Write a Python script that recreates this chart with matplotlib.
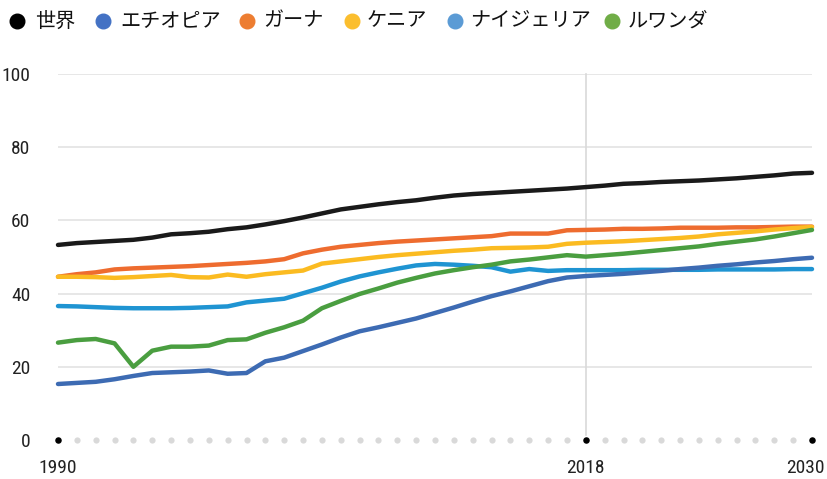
import matplotlib
matplotlib.use("Agg")
import matplotlib.pyplot as plt
from matplotlib import font_manager
from matplotlib.transforms import ScaledTranslation

years = list(range(1990, 2031))

world = [53.3, 53.8, 54.1, 54.4, 54.7, 55.3, 56.2, 56.5, 56.9, 57.6,
         58.1, 58.9, 59.8, 60.8, 61.9, 63.0, 63.7, 64.4, 65.0, 65.5,
         66.2, 66.8, 67.2, 67.5, 67.8, 68.1, 68.4, 68.7, 69.1, 69.5,
         70.0, 70.2, 70.5, 70.7, 70.9, 71.2, 71.5, 71.9, 72.3, 72.8, 73.0]
ethiopia = [15.3, 15.6, 15.9, 16.6, 17.5, 18.3, 18.5, 18.7, 19.0, 18.1,
            18.3, 21.5, 22.5, 24.3, 26.1, 28.0, 29.7, 30.8, 32.0, 33.2,
            34.7, 36.2, 37.8, 39.3, 40.6, 42.0, 43.4, 44.4, 44.8, 45.1,
            45.4, 45.8, 46.2, 46.7, 47.1, 47.6, 48.0, 48.5, 48.9, 49.4, 49.8]
ghana = [44.6, 45.3, 45.8, 46.6, 46.9, 47.1, 47.3, 47.5, 47.8, 48.1,
         48.4, 48.8, 49.4, 51.0, 52.0, 52.8, 53.3, 53.8, 54.2, 54.5,
         54.8, 55.1, 55.4, 55.7, 56.4, 56.4, 56.4, 57.3, 57.4, 57.5,
         57.7, 57.7, 57.8, 58.0, 58.0, 58.0, 58.1, 58.1, 58.2, 58.3, 58.3]
kenya = [44.6, 44.6, 44.5, 44.3, 44.5, 44.8, 45.1, 44.5, 44.4, 45.2,
         44.6, 45.3, 45.8, 46.3, 48.2, 48.8, 49.4, 50.0, 50.5, 50.9,
         51.3, 51.7, 52.0, 52.4, 52.5, 52.6, 52.8, 53.6, 53.9, 54.1,
         54.3, 54.6, 54.9, 55.2, 55.6, 56.2, 56.6, 57.0, 57.5, 57.9, 58.2]
nigeria = [36.6, 36.5, 36.3, 36.1, 36.0, 36.0, 36.0, 36.1, 36.3, 36.5,
           37.6, 38.1, 38.6, 40.1, 41.6, 43.3, 44.7, 45.8, 46.8, 47.7,
           48.1, 47.9, 47.6, 47.2, 46.0, 46.7, 46.2, 46.4, 46.4, 46.4,
           46.4, 46.5, 46.5, 46.5, 46.5, 46.6, 46.6, 46.6, 46.6, 46.7, 46.7]
rwanda = [26.6, 27.3, 27.6, 26.4, 20.0, 24.4, 25.5, 25.5, 25.8, 27.3,
          27.5, 29.3, 30.8, 32.6, 36.0, 38.0, 39.9, 41.4, 43.0, 44.3,
          45.5, 46.4, 47.2, 47.9, 48.8, 49.3, 49.9, 50.5, 50.1, 50.5,
          50.9, 51.4, 51.9, 52.4, 52.9, 53.6, 54.2, 54.8, 55.6, 56.5, 57.4]

names = ["世界", "エチオピア", "ガーナ", "ケニア", "ナイジェリア", "ルワンダ"]
line_colors = ["#1a1a1a", "#3d6bb3", "#ee6c2f", "#fbbb21", "#1f94d2", "#4a9e40"]
legend_colors = ["#000000", "#4472c4", "#ed7d31", "#fbbe2e", "#5b9bd5", "#70ad47"]
series = [world, ethiopia, ghana, kenya, nigeria, rwanda]
draw_order = [0, 2, 3, 4, 1, 5]

yticks = [0, 20, 40, 60, 80, 100]
xlabels = [1990, 2018, 2030]

# pick a narrow face for the numbers if one is around
installed = {f.name for f in font_manager.fontManager.ttflist}
narrow = [n for n in ["Roboto Condensed", "Liberation Sans Narrow", "DejaVu Sans Condensed",
                      "Open Sans Condensed", "Noto Sans Condensed"] if n in installed]
num_font = narrow + ["DejaVu Sans"]
jp_font = ["Noto Sans CJK JP", "DejaVu Sans"]
num_size = 14 if narrow else 12

W, H = 828, 479
fig = plt.figure(figsize=(W / 100, H / 100), dpi=100)
ax = fig.add_axes([58 / W, 39 / H, 754 / W, 366 / H])
ax.set_xlim(1990, 2030)
ax.set_ylim(0, 100)

for s in ax.spines.values():
    s.set_visible(False)

# horizontal guides and the 2018 marker line
for v in yticks[1:]:
    ax.axhline(v, color="#e3e3e3", lw=1.2, zorder=0)
ax.plot([2018, 2018], [1.5, 100], color="#d9d9d9", lw=1.2, zorder=0, clip_on=False)

for i in draw_order:
    ax.plot(years, series[i], color=line_colors[i], lw=3.2,
            solid_capstyle="round", solid_joinstyle="round", clip_on=False, zorder=3)

# dotted baseline: one dot per year, labelled years in black
grey_years = [y for y in years if y not in xlabels]
ax.scatter(grey_years, [0] * len(grey_years), s=20, color="#d9d9d9", lw=0, zorder=2, clip_on=False)
ax.scatter(xlabels, [0] * len(xlabels), s=22, color="#000000", lw=0, zorder=2, clip_on=False)

ax.set_yticks(yticks)
ax.set_yticklabels([str(v) for v in yticks], family=num_font, fontsize=num_size, color="#222222")
ax.set_xticks(xlabels)
ax.set_xticklabels([str(v) for v in xlabels], family=num_font, fontsize=num_size, color="#222222")
ax.tick_params(axis="y", length=0, pad=20)
ax.tick_params(axis="x", length=0, pad=14)

# nudge the last year inward so it stays on the canvas
last = ax.get_xticklabels()[-1]
last.set_transform(last.get_transform() + ScaledTranslation(-5 / 72, 0, fig.dpi_scale_trans))

# legend row across the top
marker_x = [17, 103, 247, 352, 455, 612]
text_x = [35, 120, 263, 367, 470, 628]
for mx, tx, name, c in zip(marker_x, text_x, names, legend_colors):
    fig.add_artist(plt.Line2D([mx / W], [1 - 21 / H], ls="none", marker="o", markersize=10.5,
                              color=c, transform=fig.transFigure))
    fig.text(tx / W, 1 - 21 / H, name, family=jp_font, fontsize=14.5, color="#111111",
             ha="left", va="center")

fig.savefig("out.png", dpi=100)
